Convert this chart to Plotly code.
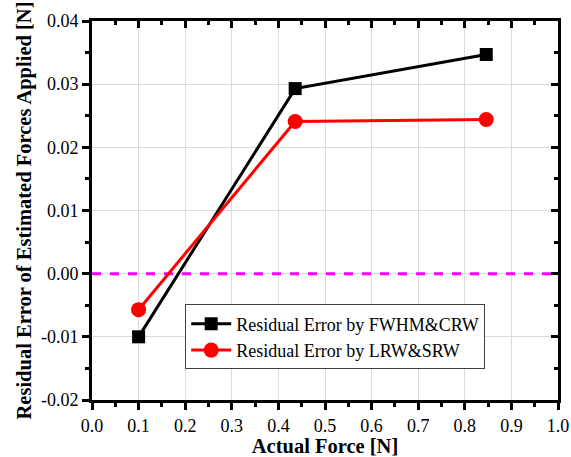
import plotly.graph_objects as go

# Measured residual errors against actual applied force
actual_force = [0.1, 0.436, 0.846]
residual_fwhm_crw = [-0.0100, 0.0293, 0.0347]
residual_lrw_srw = [-0.0057, 0.0241, 0.0244]

x_ticks = [0.0, 0.1, 0.2, 0.3, 0.4, 0.5, 0.6, 0.7, 0.8, 0.9, 1.0]
y_ticks = [-0.02, -0.01, 0.00, 0.01, 0.02, 0.03, 0.04]

FONT = "Liberation Serif, Times New Roman, serif"

fig = go.Figure()

# zero reference line
fig.add_trace(go.Scatter(
    x=[0.0, 1.0], y=[0, 0], mode="lines",
    line=dict(color="#ff00ff", width=3, dash="dash"),
    showlegend=False, hoverinfo="skip"))

fig.add_trace(go.Scatter(
    x=actual_force, y=residual_fwhm_crw, mode="lines+markers",
    name="Residual Error by FWHM&CRW",
    line=dict(color="black", width=3),
    marker=dict(symbol="square", size=13, color="black")))

fig.add_trace(go.Scatter(
    x=actual_force, y=residual_lrw_srw, mode="lines+markers",
    name="Residual Error by LRW&SRW",
    line=dict(color="red", width=3),
    marker=dict(symbol="circle", size=15, color="red")))

axis_common = dict(
    showline=True, linecolor="black", linewidth=3,
    ticklen=7, tickwidth=3, tickcolor="black",
    zeroline=False, automargin=False,
)
tick_font = dict(family=FONT, size=18, color="black")
title_font = dict(family=FONT, size=20.5, color="black")

fig.update_layout(
    width=571, height=457,
    margin=dict(l=92, r=13, t=21, b=57),
    paper_bgcolor="white", plot_bgcolor="white",
    font=dict(family=FONT, color="black"),
    xaxis=dict(
        range=[0.0, 1.0], tickvals=x_ticks,
        ticktext=[f"{v:.1f}" for v in x_ticks], tickfont=tick_font,
        ticks="outside", showgrid=True, gridcolor="#dcdcdc", gridwidth=1,
        minor=dict(dtick=0.05, ticks="outside", ticklen=4, tickwidth=3,
                   tickcolor="black", showgrid=False),
        title=dict(text="<b>Actual Force [N]</b>", font=title_font, standoff=6),
        **axis_common),
    yaxis=dict(
        range=[-0.02, 0.04], tickvals=y_ticks,
        ticktext=[f"{v:.2f}" for v in y_ticks], tickfont=tick_font,
        ticks="outside", showgrid=True, gridcolor="#dcdcdc", gridwidth=1,
        minor=dict(dtick=0.005, ticks="outside", ticklen=4, tickwidth=3,
                   tickcolor="black", showgrid=False),
        title=dict(text="<b>Residual Error of Estimated Forces Applied [N]</b>",
                   font=title_font, standoff=4),
        **axis_common),
    xaxis2=dict(
        overlaying="x", side="top", matches="x", range=[0.0, 1.0],
        tickvals=x_ticks, ticks="inside", showticklabels=False,
        showgrid=False,
        minor=dict(dtick=0.05, ticks="inside", ticklen=4, tickwidth=3,
                   tickcolor="black", showgrid=False),
        **axis_common),
    yaxis2=dict(
        overlaying="y", side="right", matches="y", range=[-0.02, 0.04],
        tickvals=y_ticks, ticks="inside", showticklabels=False,
        showgrid=False,
        minor=dict(dtick=0.005, ticks="inside", ticklen=4, tickwidth=3,
                   tickcolor="black", showgrid=False),
        **axis_common),
    legend=dict(
        x=0.2, y=0.252, xanchor="left", yanchor="top",
        bgcolor="white", bordercolor="#404040", borderwidth=1,
        font=dict(family=FONT, size=18, color="black"),
        itemwidth=40, tracegroupgap=0),
    showlegend=True,
)

# invisible trace to bring the mirrored top/right axes into the layout
fig.add_trace(go.Scatter(x=[None], y=[None], xaxis="x2", yaxis="y2",
                         showlegend=False, hoverinfo="skip"))

fig.write_html("out.html")
